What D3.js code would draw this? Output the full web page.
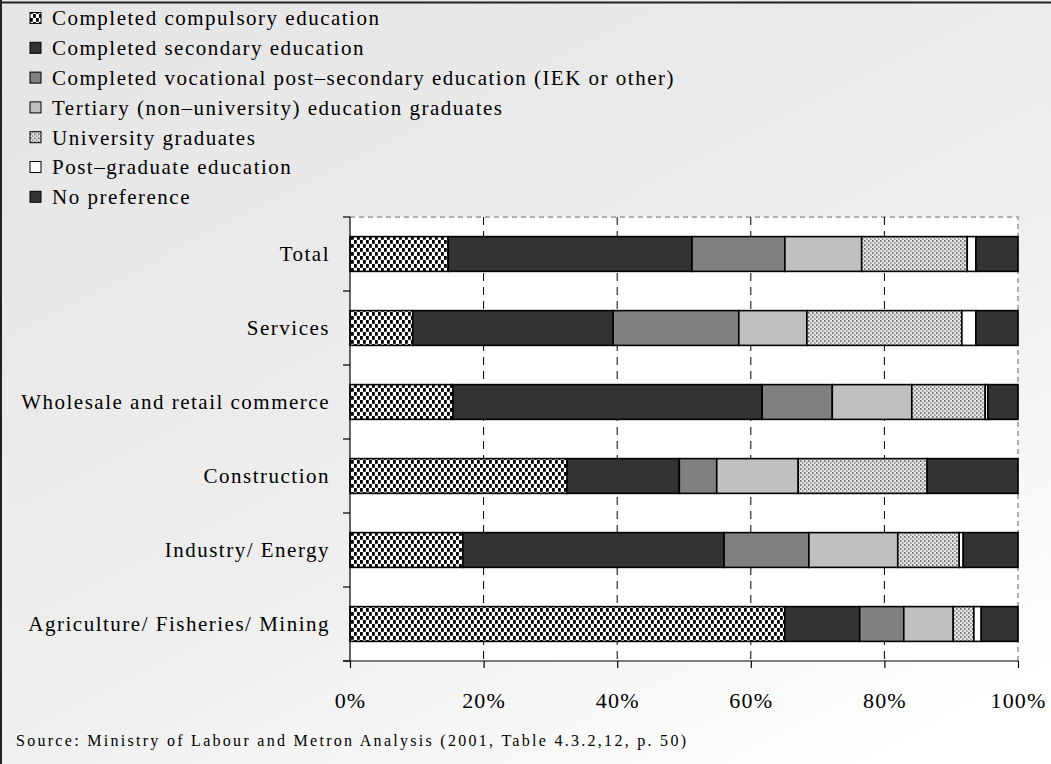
<!DOCTYPE html>
<html>
<head>
<meta charset="utf-8">
<script src="https://cdn.jsdelivr.net/npm/d3@7"></script>
<style>
  html, body { margin: 0; padding: 0; background: #fff; }
  svg { display: block; }
  svg text { font-family: "Liberation Serif", "Times New Roman", serif; fill: #000; }
</style>
</head>
<body>
<svg id="chart" width="1051" height="764"></svg>
<script>
// Preferred education level of new recruits, by sector (shares of responses)
const categories = [
  "Total",
  "Services",
  "Wholesale and retail commerce",
  "Construction",
  "Industry/ Energy",
  "Agriculture/ Fisheries/ Mining"
];

const seriesNames = [
  "Completed compulsory education",
  "Completed secondary education",
  "Completed vocational post\u2013secondary education (IEK or other)",
  "Tertiary (non\u2013university) education graduates",
  "University graduates",
  "Post\u2013graduate education",
  "No preference"
];

// one array per series, ordered like `categories`
const compulsory   = [14.7,  9.4, 15.4, 32.5, 16.9, 65.1];
const secondary    = [36.5, 30.0, 46.3, 16.8, 39.1, 11.2];
const vocational   = [13.9, 18.8, 10.5,  5.6, 12.7,  6.6];
const tertiary     = [11.5, 10.2, 11.9, 12.2, 13.3,  7.4];
const university   = [15.8, 23.2, 11.0, 19.3,  9.2,  3.1];
const postgraduate = [ 1.3,  2.1,  0.4,  0.0,  0.6,  1.1];
const noPreference = [ 6.3,  6.3,  4.5, 13.6,  8.2,  5.5];

const tickValues = [0, 20, 40, 60, 80, 100];
const tickLabels = ["0%", "20%", "40%", "60%", "80%", "100%"];

const sourceNote = "Source: Ministry of Labour and Metron Analysis (2001, Table 4.3.2,12, p. 50)";

const seriesValues = [compulsory, secondary, vocational, tertiary, university, postgraduate, noPreference];

const W = 1051, H = 764;
const SERIF = "'Liberation Serif', 'Times New Roman', serif";
const svg = d3.select("#chart");
const defs = svg.append("defs");

// page background
const bg = defs.append("linearGradient").attr("id", "bgGrad")
  .attr("x1", "0.15").attr("y1", "0").attr("x2", "0.85").attr("y2", "1");
bg.append("stop").attr("offset", "0").attr("stop-color", "#e6e6e6");
bg.append("stop").attr("offset", "0.55").attr("stop-color", "#eeeeee");
bg.append("stop").attr("offset", "1").attr("stop-color", "#ffffff");

// speckled fill for compulsory education
const pCompulsory = defs.append("pattern").attr("id", "patCompulsory")
  .attr("patternUnits", "userSpaceOnUse").attr("width", 6).attr("height", 8);
pCompulsory.append("rect").attr("width", 6).attr("height", 8).attr("fill", "#fff");
pCompulsory.append("rect").attr("x", 0).attr("y", 0).attr("width", 2.8).attr("height", 3.8).attr("fill", "#000");
pCompulsory.append("rect").attr("x", 3).attr("y", 4).attr("width", 2.8).attr("height", 3.8).attr("fill", "#000");

// fine dotted fill for university graduates
const pUni = defs.append("pattern").attr("id", "patUniversity")
  .attr("patternUnits", "userSpaceOnUse").attr("width", 4).attr("height", 4);
pUni.append("rect").attr("width", 4).attr("height", 4).attr("fill", "#e4e4e4");
pUni.append("rect").attr("x", 0).attr("y", 0).attr("width", 1.5).attr("height", 2).attr("fill", "#777");
pUni.append("rect").attr("x", 2).attr("y", 2).attr("width", 1.5).attr("height", 2).attr("fill", "#999");

const fills = [
  "url(#patCompulsory)", "#333333", "#808080", "#c0c0c0",
  "url(#patUniversity)", "#ffffff", "#333333"
];

svg.append("rect").attr("width", W).attr("height", H).attr("fill", "url(#bgGrad)");
svg.append("line").attr("x1", 0).attr("x2", W).attr("y1", 2.5).attr("y2", 2.5)
  .attr("stroke", "#222").attr("stroke-width", 2);
svg.append("line").attr("x1", 1).attr("x2", 1).attr("y1", 0).attr("y2", H)
  .attr("stroke", "#222").attr("stroke-width", 2);

// legend
const legend = svg.append("g").attr("transform", "translate(30,18)");
seriesNames.forEach((name, i) => {
  const g = legend.append("g").attr("transform", `translate(0,${i * 29.8})`);
  g.append("rect").attr("x", 0).attr("y", -5.5).attr("width", 11).attr("height", 11)
    .attr("fill", fills[i]).attr("stroke", "#000").attr("stroke-width", 1);
  g.append("text").attr("x", 22).attr("y", 0).attr("dy", "0.35em")
    .style("font-family", SERIF)
    .style("font-size", "21px").style("letter-spacing", "1.5px").text(name);
});

// plot area
const margin = { left: 350, right: 1018, top: 217, bottom: 661 };
const x = d3.scaleLinear().domain([0, 100]).range([margin.left, margin.right]);
const y = d3.scaleBand().domain(categories).range([margin.top, margin.bottom]).paddingInner(0.53).paddingOuter(0.265);

svg.append("rect").attr("x", margin.left).attr("y", margin.top)
  .attr("width", margin.right - margin.left).attr("height", margin.bottom - margin.top)
  .attr("fill", "#fff");
svg.append("path")
  .attr("d", `M${margin.left},${margin.top}H${margin.right}V${margin.bottom}`)
  .attr("fill", "none").attr("stroke", "#b0b0b0").attr("stroke-width", 2)
  .attr("stroke-dasharray", "5,4");

// vertical gridlines
svg.append("g").selectAll("line").data(tickValues.slice(1, -1)).join("line")
  .attr("x1", d => x(d)).attr("x2", d => x(d))
  .attr("y1", margin.top).attr("y2", margin.bottom)
  .attr("stroke", "#000").attr("stroke-width", 1).attr("stroke-dasharray", "8,6");

// stacked bars
const rows = categories.map((c, ci) => {
  const r = { category: c };
  seriesNames.forEach((s, si) => { r[s] = seriesValues[si][ci]; });
  return r;
});
const stacked = d3.stack().keys(seriesNames)(rows);

svg.append("g").selectAll("g").data(stacked).join("g")
  .attr("fill", (d, i) => fills[i])
  .selectAll("rect").data(d => d.filter(p => p[1] - p[0] > 0)).join("rect")
  .attr("x", d => x(d[0]))
  .attr("width", d => x(d[1]) - x(d[0]))
  .attr("y", d => y(d.data.category))
  .attr("height", y.bandwidth())
  .attr("stroke", "#000").attr("stroke-width", 1.6);

// category axis
const yAxis = svg.append("g");
yAxis.append("line").attr("x1", margin.left).attr("x2", margin.left)
  .attr("y1", margin.top).attr("y2", margin.bottom).attr("stroke", "#000").attr("stroke-width", 1.2);
const bounds = d3.range(categories.length + 1).map(i => margin.top + i * (margin.bottom - margin.top) / categories.length);
yAxis.selectAll("line.tick").data(bounds).join("line").attr("class", "tick")
  .attr("x1", margin.left - 7).attr("x2", margin.left)
  .attr("y1", d => d).attr("y2", d => d).attr("stroke", "#000").attr("stroke-width", 1.2);
yAxis.selectAll("text").data(categories).join("text")
  .attr("x", margin.left - 20).attr("y", d => y(d) + y.bandwidth() / 2).attr("dy", "0.35em")
  .attr("text-anchor", "end")
  .style("font-family", SERIF)
  .style("font-size", "21px").style("letter-spacing", "1.5px")
  .text(d => d);

// value axis
const xAxis = d3.axisBottom(x).tickValues(tickValues)
  .tickFormat((d, i) => tickLabels[i]).tickSize(7).tickPadding(24);
const gx = svg.append("g").attr("transform", `translate(0,${margin.bottom})`).call(xAxis);
gx.select(".domain").attr("d", `M${margin.left - 7},0H${margin.right}`).attr("stroke-width", 1.2);
gx.selectAll(".tick line").attr("stroke-width", 1.2);
gx.selectAll(".tick text").style("font-family", SERIF)
  .style("font-size", "22px").style("letter-spacing", "1.2px");

// source note
svg.append("text").attr("x", 16).attr("y", 740).attr("dy", "0.35em")
  .style("font-family", SERIF)
  .style("font-size", "16px").attr("textLength", 670).attr("lengthAdjust", "spacing")
  .text(sourceNote);
</script>
</body>
</html>
